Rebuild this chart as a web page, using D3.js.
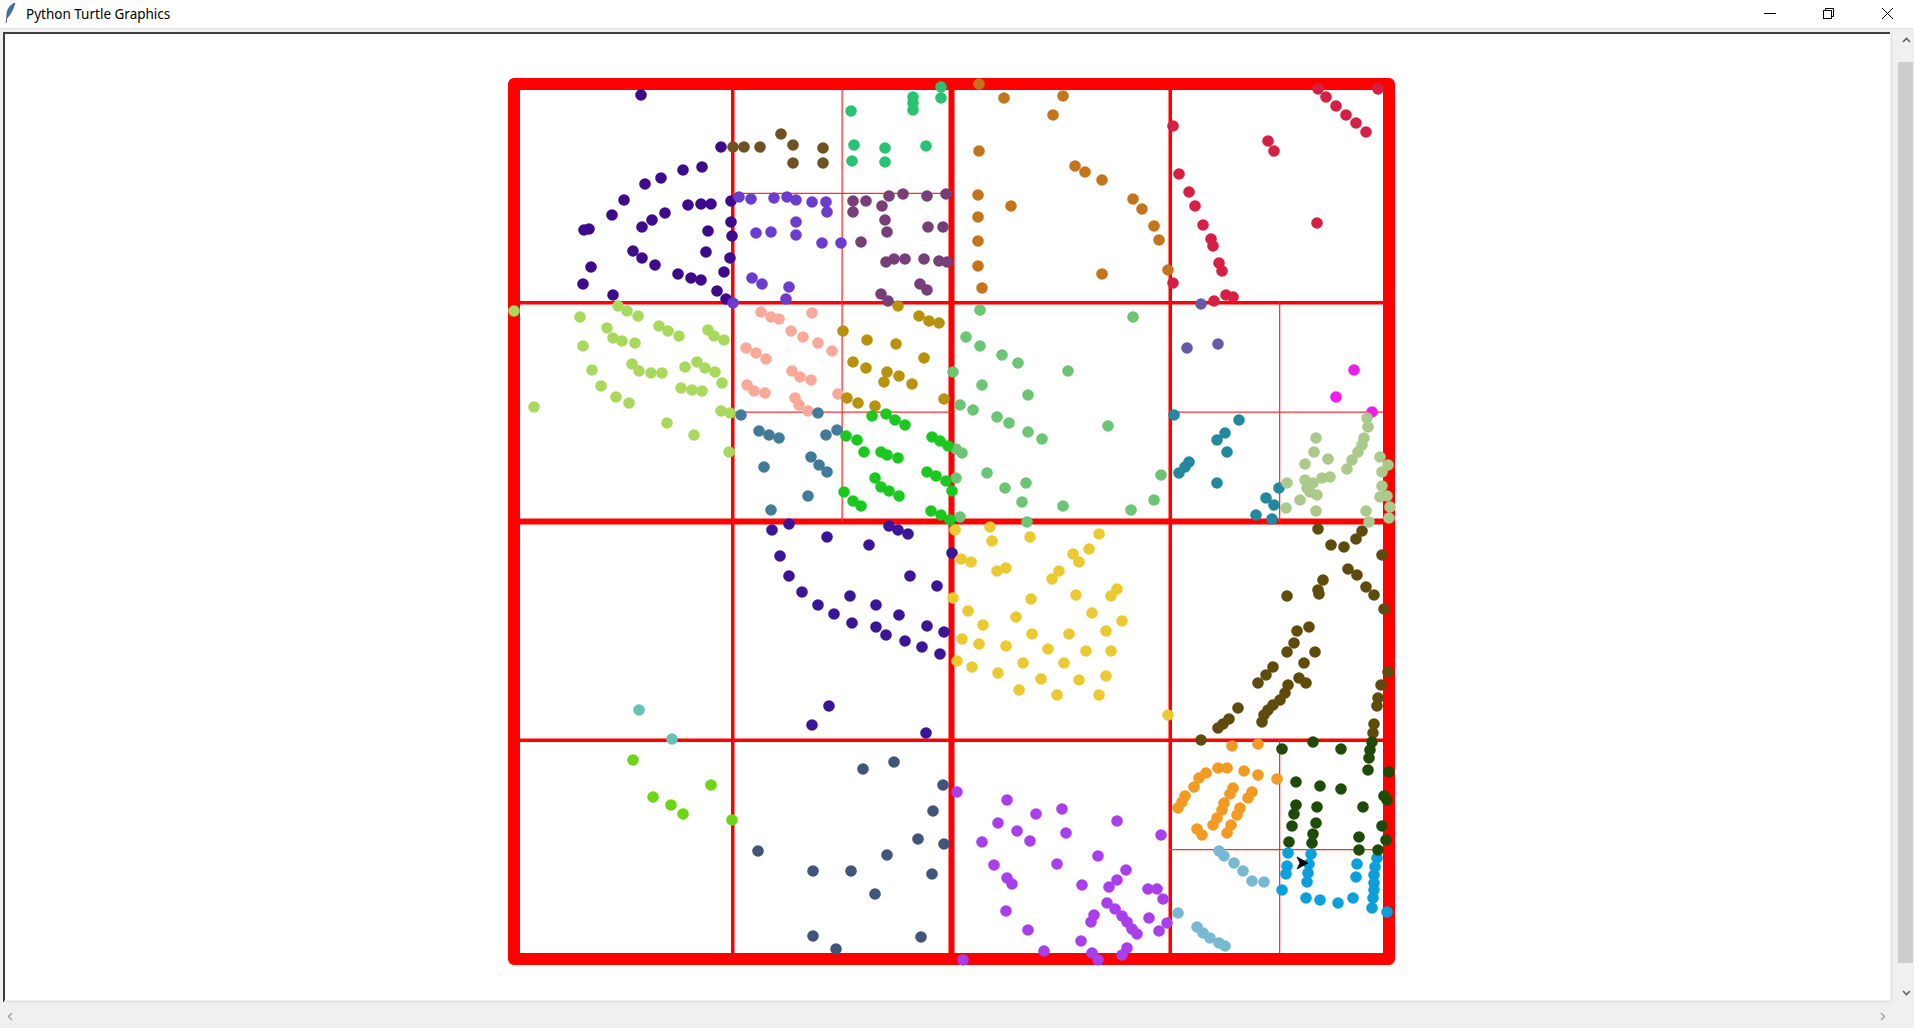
<!DOCTYPE html>
<html lang="en">
<head>
<meta charset="UTF-8">
<title>Python Turtle Graphics</title>
<script src="https://cdn.jsdelivr.net/npm/d3@7"></script>
<style>
  html, body { margin: 0; padding: 0; background: #f0f0f0; overflow: hidden; }
  svg { display: block; }
</style>
</head>
<body>
<script>
// world is a square quadtree extent, y grows downward
const extent = 875

// quadtree cells that were subdivided: [depth, col, row]
const splitCells = [
  [0, 0, 0],
  [1, 0, 0], [1, 1, 0], [1, 0, 1], [1, 1, 1],
  [2, 1, 0], [2, 1, 1], [2, 3, 1], [2, 3, 3]
]

const indigoTop = [[127,11],[207,63],[169,86],[188,83],[147,94],[131,100],[110,116],[174,121],[187,120],[197,120],[217,117],[98,131],[151,129],[138,136],[128,143],[217,138],[194,147],[218,152],[70,146],[75,145],[119,167],[128,174],[192,168],[216,174],[141,181],[77,183],[164,190],[177,194],[187,196],[210,188],[69,200],[203,207],[99,211],[212,215]]
const brown = [[219,63],[230,63],[246,63],[267,50],[279,61],[279,79],[309,64],[309,79]]
const purple = [[225,113],[237,115],[260,114],[273,113],[282,116],[282,138],[242,149],[257,148],[282,151],[238,194],[248,200],[275,203],[272,215],[219,219],[298,118],[312,118],[313,128],[308,159],[327,159]]
const lightGreen = [[0,227],[66,233],[104,222],[113,227],[124,232],[93,244],[99,254],[108,257],[121,259],[145,242],[154,247],[165,252],[194,246],[200,252],[210,256],[69,262],[118,280],[125,287],[137,289],[148,289],[171,283],[183,278],[191,284],[201,288],[78,286],[87,302],[102,313],[115,319],[20,323],[167,304],[178,306],[188,307],[208,299],[207,327],[216,329],[153,339],[180,351],[215,368]]
const salmon = [[247,228],[257,233],[265,235],[277,247],[289,253],[232,264],[242,269],[252,275],[278,287],[298,229],[304,259],[318,267],[233,301],[240,307],[251,309],[281,314],[285,321],[294,327],[286,293],[297,296],[324,310]]
const emerald = [[427,3],[427,14],[399,13],[399,19],[399,26],[337,27],[340,61],[371,64],[412,62],[338,77],[371,78]]
const ochre = [[465,0],[490,14],[549,12],[539,31],[465,67],[561,82],[571,88],[588,96],[464,111],[497,122],[464,133],[464,157],[464,182],[468,204],[588,190],[619,115],[628,125],[640,142],[645,156],[654,186]]
const plum = [[339,117],[352,117],[339,128],[375,112],[389,110],[413,112],[432,110],[368,122],[371,136],[373,148],[414,143],[429,143],[347,158],[372,178],[380,175],[391,175],[410,175],[425,177],[433,178],[406,200],[413,206],[367,210],[374,217]]
const goldenrod = [[384,222],[405,232],[415,237],[425,239],[329,247],[353,256],[382,260],[410,274],[339,278],[352,284],[373,288],[385,292],[370,298],[398,300],[333,314],[344,319],[361,322],[430,315]]
const medGreen = [[466,226],[452,253],[466,262],[488,271],[504,279],[554,287],[439,288],[619,233],[468,301],[514,311],[446,321],[459,326],[483,333],[495,339],[514,348],[528,355],[442,365],[448,369],[442,394],[473,389],[491,404],[512,399],[508,418],[549,422],[446,433],[513,438],[594,342],[647,391],[640,416],[617,426]]
const crimson = [[804,5],[864,5],[812,13],[822,22],[832,31],[842,39],[852,48],[659,42],[754,57],[760,67],[665,90],[675,108],[681,122],[689,141],[803,139],[697,155],[699,162],[705,179],[708,187],[659,199],[700,217],[712,211],[719,213]]
const slateBlue = [[687,220],[673,264],[704,260]]
const magenta = [[840,286],[822,313],[858,328]]
const steelBlue = [[227,331],[245,347],[255,351],[265,354],[250,383],[294,412],[257,426],[304,329],[312,351],[323,346],[297,373],[305,381],[313,388]]
const brightGreen = [[358,332],[372,330],[381,336],[391,341],[332,352],[343,356],[350,368],[367,368],[373,371],[384,374],[418,353],[426,357],[434,362],[361,394],[367,403],[375,407],[385,412],[413,388],[422,392],[432,397],[438,407],[330,408],[339,417],[347,422],[417,427],[427,431],[436,436]]
const indigoLow = [[275,440],[258,446],[266,472],[275,492],[288,508],[375,442],[384,446],[394,450],[313,453],[355,461],[438,469],[396,492],[423,502],[336,512],[304,521],[362,521],[320,530],[385,531],[338,539],[362,543],[372,551],[413,542],[430,548],[391,557],[408,563],[426,570],[315,622],[298,641],[412,649]]
const yellow = [[441,446],[476,443],[478,457],[516,453],[585,450],[447,475],[457,478],[483,487],[492,484],[559,470],[565,478],[575,465],[545,487],[538,495],[439,514],[517,515],[562,511],[454,527],[502,533],[578,529],[469,541],[518,550],[555,550],[448,555],[465,560],[492,562],[534,565],[572,567],[443,577],[458,583],[509,579],[550,579],[603,505],[597,512],[608,537],[592,547],[597,567],[484,589],[527,595],[565,596],[505,606],[543,611],[585,611],[592,592],[654,631]]
const teal = [[660,331],[725,336],[711,349],[703,356],[713,368],[675,378],[671,383],[665,389],[703,399],[765,404],[752,414],[760,421],[742,431],[758,435]]
const sage = [[853,334],[854,343],[850,354],[848,361],[844,368],[838,376],[833,385],[802,354],[800,368],[814,375],[791,380],[866,373],[874,381],[868,388],[773,399],[791,396],[793,404],[799,399],[808,394],[816,393],[803,411],[796,408],[786,416],[772,424],[802,427],[868,402],[866,413],[873,412],[876,423],[875,434],[852,427],[855,438]]
const darkOlive = [[804,445],[848,447],[842,455],[817,461],[830,463],[868,471],[834,485],[843,491],[809,496],[804,506],[805,510],[852,503],[860,511],[773,512],[870,525],[795,543],[783,547],[780,559],[773,568],[801,568],[790,579],[759,583],[874,588],[744,599],[752,591],[785,594],[792,599],[774,601],[771,609],[766,616],[759,621],[754,626],[750,631],[748,638],[724,624],[715,635],[709,640],[704,644],[687,656],[867,601],[864,614],[863,622],[860,640],[859,649]]
const aqua = [[125,626],[158,655]]
const lime = [[119,676],[197,701],[139,713],[157,721],[169,730],[218,736]]
const darkSlate = [[244,767],[349,685],[380,678],[429,701],[419,727],[404,755],[430,760],[373,771],[299,787],[337,787],[418,790],[361,810],[299,852],[322,865],[407,853]]
const violet = [[443,708],[493,716],[522,730],[548,725],[484,739],[503,747],[516,757],[552,749],[468,758],[584,772],[480,781],[543,780],[493,794],[498,800],[568,801],[492,827],[514,846],[580,831],[577,838],[567,857],[530,867],[578,869],[584,876],[449,876],[603,737],[647,751],[612,786],[603,796],[595,803],[634,805],[643,805],[649,815],[593,819],[601,825],[608,832],[613,838],[618,845],[623,850],[635,834],[653,839],[645,847],[613,864],[608,871]]
const orange = [[718,662],[744,660],[704,684],[713,684],[692,689],[685,694],[730,687],[744,691],[763,695],[680,703],[671,712],[668,718],[664,724],[719,704],[716,710],[738,708],[734,714],[710,719],[708,726],[726,724],[723,731],[703,734],[699,741],[717,741],[713,749],[683,745],[688,751]]
const lightBlue = [[705,767],[710,772],[720,779],[729,787],[738,797],[750,798],[664,829],[683,843],[689,849],[696,854],[705,859],[711,862]]
const sky = [[774,769],[773,782],[772,790],[797,770],[795,780],[794,789],[793,798],[768,806],[792,814],[806,816],[824,819],[839,814],[843,780],[842,793],[863,774],[861,783],[860,791],[860,799],[860,806],[859,814],[858,824],[873,828]]
const darkGreen = [[768,665],[799,658],[827,665],[858,658],[856,666],[855,674],[854,686],[875,688],[782,698],[806,702],[827,705],[870,712],[873,716],[782,721],[780,730],[778,742],[775,758],[803,723],[802,739],[799,750],[798,759],[849,723],[868,742],[845,753],[845,766],[872,756],[864,766]]

// where the turtle ended up, heading east
const turtlePos = [794, 779]

const series = [
  { pts: indigoTop, color: '#3d0a8c' },
  { pts: brown, color: '#6e5222' },
  { pts: purple, color: '#6c3ccf' },
  { pts: lightGreen, color: '#a9d95c' },
  { pts: salmon, color: '#f8a99a' },
  { pts: emerald, color: '#29c272' },
  { pts: ochre, color: '#c4741b' },
  { pts: plum, color: '#763f77' },
  { pts: goldenrod, color: '#b8920d' },
  { pts: medGreen, color: '#6cc475' },
  { pts: crimson, color: '#d42044' },
  { pts: slateBlue, color: '#675ba8' },
  { pts: magenta, color: '#ee1ee8' },
  { pts: steelBlue, color: '#427a99' },
  { pts: brightGreen, color: '#1ac81f' },
  { pts: indigoLow, color: '#3b1597' },
  { pts: yellow, color: '#ebc931' },
  { pts: teal, color: '#21889e' },
  { pts: sage, color: '#abc98a' },
  { pts: darkOlive, color: '#5f4b0b' },
  { pts: aqua, color: '#65c3b3' },
  { pts: lime, color: '#6dd416' },
  { pts: darkSlate, color: '#41557b' },
  { pts: violet, color: '#a93fea' },
  { pts: orange, color: '#f39a22' },
  { pts: lightBlue, color: '#78b8d2' },
  { pts: sky, color: '#0b9fdc' },
  { pts: darkGreen, color: '#1f4a07' }
]

const W = 1914, H = 1028
const svg = d3.select('body').append('svg').attr('width', W).attr('height', H)

// ---- window chrome ----
svg.append('rect').attr('width', W).attr('height', H).attr('fill', '#f0f0f0')
svg.append('rect').attr('width', W).attr('height', 28).attr('fill', '#fff')
svg.append('line').attr('x1', 0).attr('x2', W).attr('y1', 28.5).attr('y2', 28.5).attr('stroke', '#e3e3e3')

// feather icon
svg.append('path')
  .attr('d', 'M15,3 C9,5 6,11 7,18 C10,15 13,10 15,3 Z')
  .attr('fill', '#3b6fae').attr('stroke', '#23456e').attr('stroke-width', 0.6)
svg.append('line').attr('x1', 7).attr('y1', 17).attr('x2', 6).attr('y2', 23)
  .attr('stroke', '#555').attr('stroke-width', 1)

svg.append('text').attr('x', 26).attr('y', 19)
  .attr('font-family', "'Noto Sans', 'Open Sans', sans-serif").attr('font-size', 13.5)
  .attr('fill', '#000').text('Python Turtle Graphics')

// title bar buttons
const btn = svg.append('g').attr('stroke', '#000').attr('stroke-width', 1).attr('fill', 'none')
btn.append('line').attr('x1', 1764).attr('x2', 1776).attr('y1', 13.5).attr('y2', 13.5)
btn.append('rect').attr('x', 1823.5).attr('y', 10.5).attr('width', 8).attr('height', 8)
btn.append('path').attr('d', 'M1825.5,10.5 V8.5 H1833.5 V16.5 H1831.5')
btn.append('path').attr('d', 'M1882,8 L1893,19 M1893,8 L1882,19')

// canvas frame
svg.append('rect').attr('x', 4).attr('y', 32).attr('width', 1888).attr('height', 970).attr('fill', '#fff')
svg.append('path').attr('d', 'M4,1002 V33 H1890').attr('stroke', '#3c3c3c').attr('stroke-width', 2).attr('fill', 'none')
svg.append('path').attr('d', 'M4,1001.5 H1891.5 V33').attr('stroke', '#e3e3e3').attr('stroke-width', 2).attr('fill', 'none')

// scrollbars
svg.append('rect').attr('x', 1895).attr('y', 30).attr('width', 19).attr('height', 976).attr('fill', '#f0f0f0')
svg.append('rect').attr('x', 1898).attr('y', 62).attr('width', 15).attr('height', 901).attr('fill', '#cdcdcd')
const chev = svg.append('g').attr('fill', 'none').attr('stroke-width', 1.6)
chev.append('path').attr('d', 'M1903,42 L1906.5,38.5 L1910,42').attr('stroke', '#606060')
chev.append('path').attr('d', 'M1903,991 L1906.5,994.5 L1910,991').attr('stroke', '#606060')
chev.append('path').attr('d', 'M12,1013 L8.5,1016.5 L12,1020').attr('stroke', '#a8a8a8')
chev.append('path').attr('d', 'M1881,1013 L1884.5,1016.5 L1881,1020').attr('stroke', '#a8a8a8')

// ---- quadtree ----
const x = d3.scaleLinear().domain([0, extent]).range([514, 1389])
const y = d3.scaleLinear().domain([0, extent]).range([84, 959])
const depthWidth = [6, 3.5, 1.3]
const depthColor = ['#ff0000', '#ff0000', '#ff3030']

const grid = svg.append('g').attr('fill', 'none').attr('stroke-linecap', 'round')
splitCells.forEach(([d, c, r]) => {
  const s = extent / Math.pow(2, d)
  const x0 = c * s, y0 = r * s, m = s / 2
  grid.append('line')
    .attr('x1', x(x0 + m)).attr('x2', x(x0 + m)).attr('y1', y(y0)).attr('y2', y(y0 + s))
    .attr('stroke', depthColor[d]).attr('stroke-width', depthWidth[d])
  grid.append('line')
    .attr('x1', x(x0)).attr('x2', x(x0 + s)).attr('y1', y(y0 + m)).attr('y2', y(y0 + m))
    .attr('stroke', depthColor[d]).attr('stroke-width', depthWidth[d])
})
grid.append('rect')
  .attr('x', x(0)).attr('y', y(0))
  .attr('width', x(extent) - x(0)).attr('height', y(extent) - y(0))
  .attr('stroke', '#ff0000').attr('stroke-width', 12).attr('stroke-linejoin', 'round')

// ---- points ----
const dots = svg.append('g')
series.forEach(s => {
  dots.selectAll(null)
    .data(s.pts)
    .enter()
    .append('circle')
    .attr('cx', d => x(d[0]))
    .attr('cy', d => y(d[1]))
    .attr('r', 5.8)
    .attr('fill', s.color)
})

// turtle cursor (classic arrow)
svg.append('path')
  .attr('transform', 'translate(' + x(turtlePos[0]) + ',' + y(turtlePos[1]) + ')')
  .attr('d', 'M0,0 L-11,-6 L-8,0 L-11,6 Z')
  .attr('fill', '#000').attr('stroke', '#000').attr('stroke-width', 0.8)
</script>
</body>
</html>
